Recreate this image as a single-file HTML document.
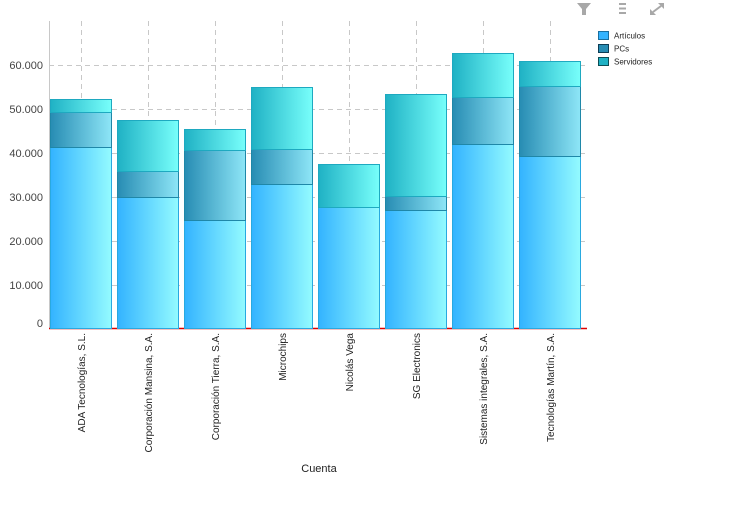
<!DOCTYPE html>
<html><head><meta charset="utf-8"><style>
html,body{margin:0;padding:0;background:#fff;}
svg{display:block;font-family:"Liberation Sans",sans-serif;}
</style></head><body>
<svg width="752" height="506" viewBox="0 0 752 506" xmlns="http://www.w3.org/2000/svg">
<defs>
<linearGradient id="ga" x1="0" x2="1" y1="0" y2="0"><stop offset="0" stop-color="#33b3ff"/><stop offset="1" stop-color="#94fbff"/></linearGradient>
<linearGradient id="gp" x1="0" x2="1" y1="0" y2="0"><stop offset="0" stop-color="#278cb3"/><stop offset="1" stop-color="#8ee6f7"/></linearGradient>
<linearGradient id="gs" x1="0" x2="1" y1="0" y2="0"><stop offset="0" stop-color="#1fb1c4"/><stop offset="1" stop-color="#78fffb"/></linearGradient>
</defs>
<g stroke="#c8c8c8" stroke-dasharray="5,4" stroke-width="1">
<line x1="49" x2="587" y1="65.5" y2="65.5"/><line x1="49" x2="587" y1="109.5" y2="109.5"/><line x1="49" x2="587" y1="153.5" y2="153.5"/><line x1="49" x2="587" y1="197.5" y2="197.5"/><line x1="49" x2="587" y1="241.5" y2="241.5"/><line x1="49" x2="587" y1="285.5" y2="285.5"/>
<line x1="81.5" x2="81.5" y1="21" y2="328"/><line x1="148.5" x2="148.5" y1="21" y2="328"/><line x1="215.5" x2="215.5" y1="21" y2="328"/><line x1="282.5" x2="282.5" y1="21" y2="328"/><line x1="349.5" x2="349.5" y1="21" y2="328"/><line x1="416.5" x2="416.5" y1="21" y2="328"/><line x1="483.5" x2="483.5" y1="21" y2="328"/><line x1="550.5" x2="550.5" y1="21" y2="328"/>
</g>
<line x1="49.5" x2="49.5" y1="21" y2="329" stroke="#c8c8c8"/>
<line x1="49" x2="587" y1="328.5" y2="328.5" stroke="#e00000" stroke-width="1.5"/>
<g font-size="11" fill="#444" text-anchor="end">
<text x="43" y="69">60.000</text><text x="43" y="113">50.000</text><text x="43" y="157">40.000</text><text x="43" y="201">30.000</text><text x="43" y="245">20.000</text><text x="43" y="289">10.000</text><text x="43" y="327">0</text>
</g>
<g stroke-width="1">
<!-- x, art, pcs, serv -->
<g transform="translate(50,0)"><rect x="0.5" y="147.5" width="61" height="181" fill="url(#ga)" stroke="#29a9e0"/><rect x="0.5" y="112.5" width="61" height="35" fill="url(#gp)" stroke="#1f87a8"/><rect x="0.5" y="99.5" width="61" height="13" fill="url(#gs)" stroke="#1ea9c0"/></g>
<g transform="translate(117,0)"><rect x="0.5" y="197.5" width="61" height="131" fill="url(#ga)" stroke="#29a9e0"/><rect x="0.5" y="171.5" width="61" height="26" fill="url(#gp)" stroke="#1f87a8"/><rect x="0.5" y="120.5" width="61" height="51" fill="url(#gs)" stroke="#1ea9c0"/></g>
<g transform="translate(184,0)"><rect x="0.5" y="220.5" width="61" height="108" fill="url(#ga)" stroke="#29a9e0"/><rect x="0.5" y="150.5" width="61" height="70" fill="url(#gp)" stroke="#1f87a8"/><rect x="0.5" y="129.5" width="61" height="21" fill="url(#gs)" stroke="#1ea9c0"/></g>
<g transform="translate(251,0)"><rect x="0.5" y="184.5" width="61" height="144" fill="url(#ga)" stroke="#29a9e0"/><rect x="0.5" y="149.5" width="61" height="35" fill="url(#gp)" stroke="#1f87a8"/><rect x="0.5" y="87.5" width="61" height="62" fill="url(#gs)" stroke="#1ea9c0"/></g>
<g transform="translate(318,0)"><rect x="0.5" y="207.5" width="61" height="121" fill="url(#ga)" stroke="#29a9e0"/><rect x="0.5" y="164.5" width="61" height="43" fill="url(#gs)" stroke="#1ea9c0"/></g>
<g transform="translate(385,0)"><rect x="0.5" y="210.5" width="61" height="118" fill="url(#ga)" stroke="#29a9e0"/><rect x="0.5" y="196.5" width="61" height="14" fill="url(#gp)" stroke="#1f87a8"/><rect x="0.5" y="94.5" width="61" height="102" fill="url(#gs)" stroke="#1ea9c0"/></g>
<g transform="translate(452,0)"><rect x="0.5" y="144.5" width="61" height="184" fill="url(#ga)" stroke="#29a9e0"/><rect x="0.5" y="97.5" width="61" height="47" fill="url(#gp)" stroke="#1f87a8"/><rect x="0.5" y="53.5" width="61" height="44" fill="url(#gs)" stroke="#1ea9c0"/></g>
<g transform="translate(519,0)"><rect x="0.5" y="156.5" width="61" height="172" fill="url(#ga)" stroke="#29a9e0"/><rect x="0.5" y="86.5" width="61" height="70" fill="url(#gp)" stroke="#1f87a8"/><rect x="0.5" y="61.5" width="61" height="25" fill="url(#gs)" stroke="#1ea9c0"/></g>
</g>
<g font-size="10" fill="#222" text-anchor="end">
<text transform="translate(85,333) rotate(-90)">ADA Tecnologías, S.L.</text>
<text transform="translate(152,333) rotate(-90)">Corporación Mansina, S.A.</text>
<text transform="translate(219,333) rotate(-90)">Corporación Tierra, S.A.</text>
<text transform="translate(286,333) rotate(-90)">Microchips</text>
<text transform="translate(353,333) rotate(-90)">Nicolás Vega</text>
<text transform="translate(420,333) rotate(-90)">SG Electronics</text>
<text transform="translate(487,333) rotate(-90)">Sistemas integrales, S.A.</text>
<text transform="translate(554,333) rotate(-90)">Tecnologías Martín, S.A.</text>
</g>
<text x="319" y="472" font-size="11" fill="#222" text-anchor="middle">Cuenta</text>
<g font-size="8" fill="#222">
<rect x="598.5" y="31.5" width="10" height="8" fill="#33b3ff" stroke="#1a6fa0"/><text x="614" y="38.5">Artículos</text>
<rect x="598.5" y="44.5" width="10" height="8" fill="#278cb3" stroke="#0d3d55"/><text x="614" y="51.5">PCs</text>
<rect x="598.5" y="57.5" width="10" height="8" fill="#1fb1c4" stroke="#0d4d55"/><text x="614" y="64.5">Servidores</text>
</g>
<g fill="#a8a8a8">
<polygon points="577,3 591,3 586,9 586,15 582,15 582,9"/>
<rect x="619" y="3" width="7" height="2"/><rect x="619" y="7.5" width="7" height="2"/><rect x="619" y="12" width="7" height="2"/>
<polygon points="658,3 664,3 664,9"/><polygon points="650,15 650,9 656,15"/>
<line x1="653" y1="12" x2="661" y2="6" stroke="#a8a8a8" stroke-width="2"/>
</g>
</svg>
</body></html>
